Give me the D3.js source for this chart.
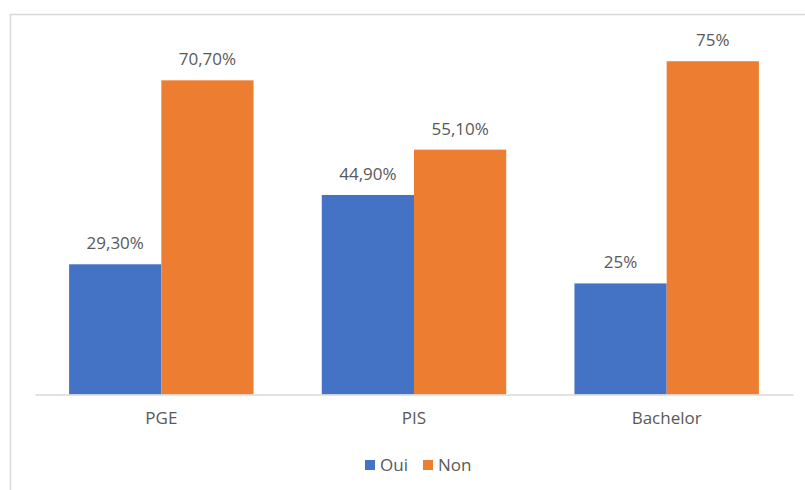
<!DOCTYPE html>
<html>
<head>
<meta charset="utf-8">
<script src="https://cdn.jsdelivr.net/npm/d3@7"></script>
<style>
  html, body { margin: 0; padding: 0; background: #fff; }
  svg { display: block; }
</style>
</head>
<body>
<svg id="chart" width="805" height="490"></svg>
<script>
const categories = ["PGE", "PIS", "Bachelor"];
const seriesNames = ["Oui", "Non"];
const oui = [0.293, 0.449, 0.25];
const non = [0.707, 0.551, 0.75];
const valueLabels = [["29,30%", "44,90%", "25%"], ["70,70%", "55,10%", "75%"]];
const colors = ["#4472C4", "#ED7D31"];

const svg = d3.select("#chart");
const W = 805, H = 490;
const font = "'Open Sans', 'Liberation Sans', sans-serif";
const textColor = "#595959";

// chart border
svg.append("rect")
  .attr("x", 10.5).attr("y", 14.5)
  .attr("width", W).attr("height", H)
  .attr("fill", "none").attr("stroke", "#d9d9d9").attr("stroke-width", 1.5);

const plotLeft = 35, plotRight = 793, plotTop = 39, plotBottom = 394.5;

const x0 = d3.scaleBand().domain(categories).range([plotLeft, plotRight]).paddingInner(0.27).paddingOuter(0.135);
const x1 = d3.scaleBand().domain(seriesNames).range([0, x0.bandwidth()]);
const y = d3.scaleLinear().domain([0, 0.8]).range([plotBottom, plotTop]);

const series = [oui, non];
const data = [];
categories.forEach((c, i) => {
  seriesNames.forEach((s, j) => {
    data.push({ cat: c, ser: s, v: series[j][i], label: valueLabels[j][i], color: colors[j] });
  });
});

svg.append("g").selectAll("rect")
  .data(data).join("rect")
  .attr("x", d => x0(d.cat) + x1(d.ser))
  .attr("y", d => y(d.v))
  .attr("width", x1.bandwidth())
  .attr("height", d => y(0) - y(d.v))
  .attr("fill", d => d.color);

svg.append("g").selectAll("text")
  .data(data).join("text")
  .attr("x", d => x0(d.cat) + x1(d.ser) + x1.bandwidth() / 2)
  .attr("y", d => y(d.v) - 15)
  .attr("text-anchor", "middle")
  .attr("font-family", font).attr("font-size", 17)
  .attr("fill", textColor)
  .text(d => d.label);

// baseline axis
const xAxis = d3.axisBottom(x0).tickSize(0).tickPadding(17);
const ax = svg.append("g").attr("transform", `translate(0,${plotBottom})`).call(xAxis);
ax.select(".domain").attr("stroke", "#d9d9d9").attr("stroke-width", 1.5);
ax.selectAll("text").attr("font-family", font).attr("font-size", 17).attr("fill", textColor);

// legend
const legendItems = [{ name: "Oui", color: colors[0], x: 365 }, { name: "Non", color: colors[1], x: 423 }];
const lg = svg.append("g");
legendItems.forEach(it => {
  lg.append("rect").attr("x", it.x).attr("y", 460).attr("width", 10).attr("height", 10).attr("fill", it.color);
  lg.append("text").attr("x", it.x + 15).attr("y", 471)
    .attr("font-family", font).attr("font-size", 17).attr("fill", textColor).text(it.name);
});
</script>
</body>
</html>
